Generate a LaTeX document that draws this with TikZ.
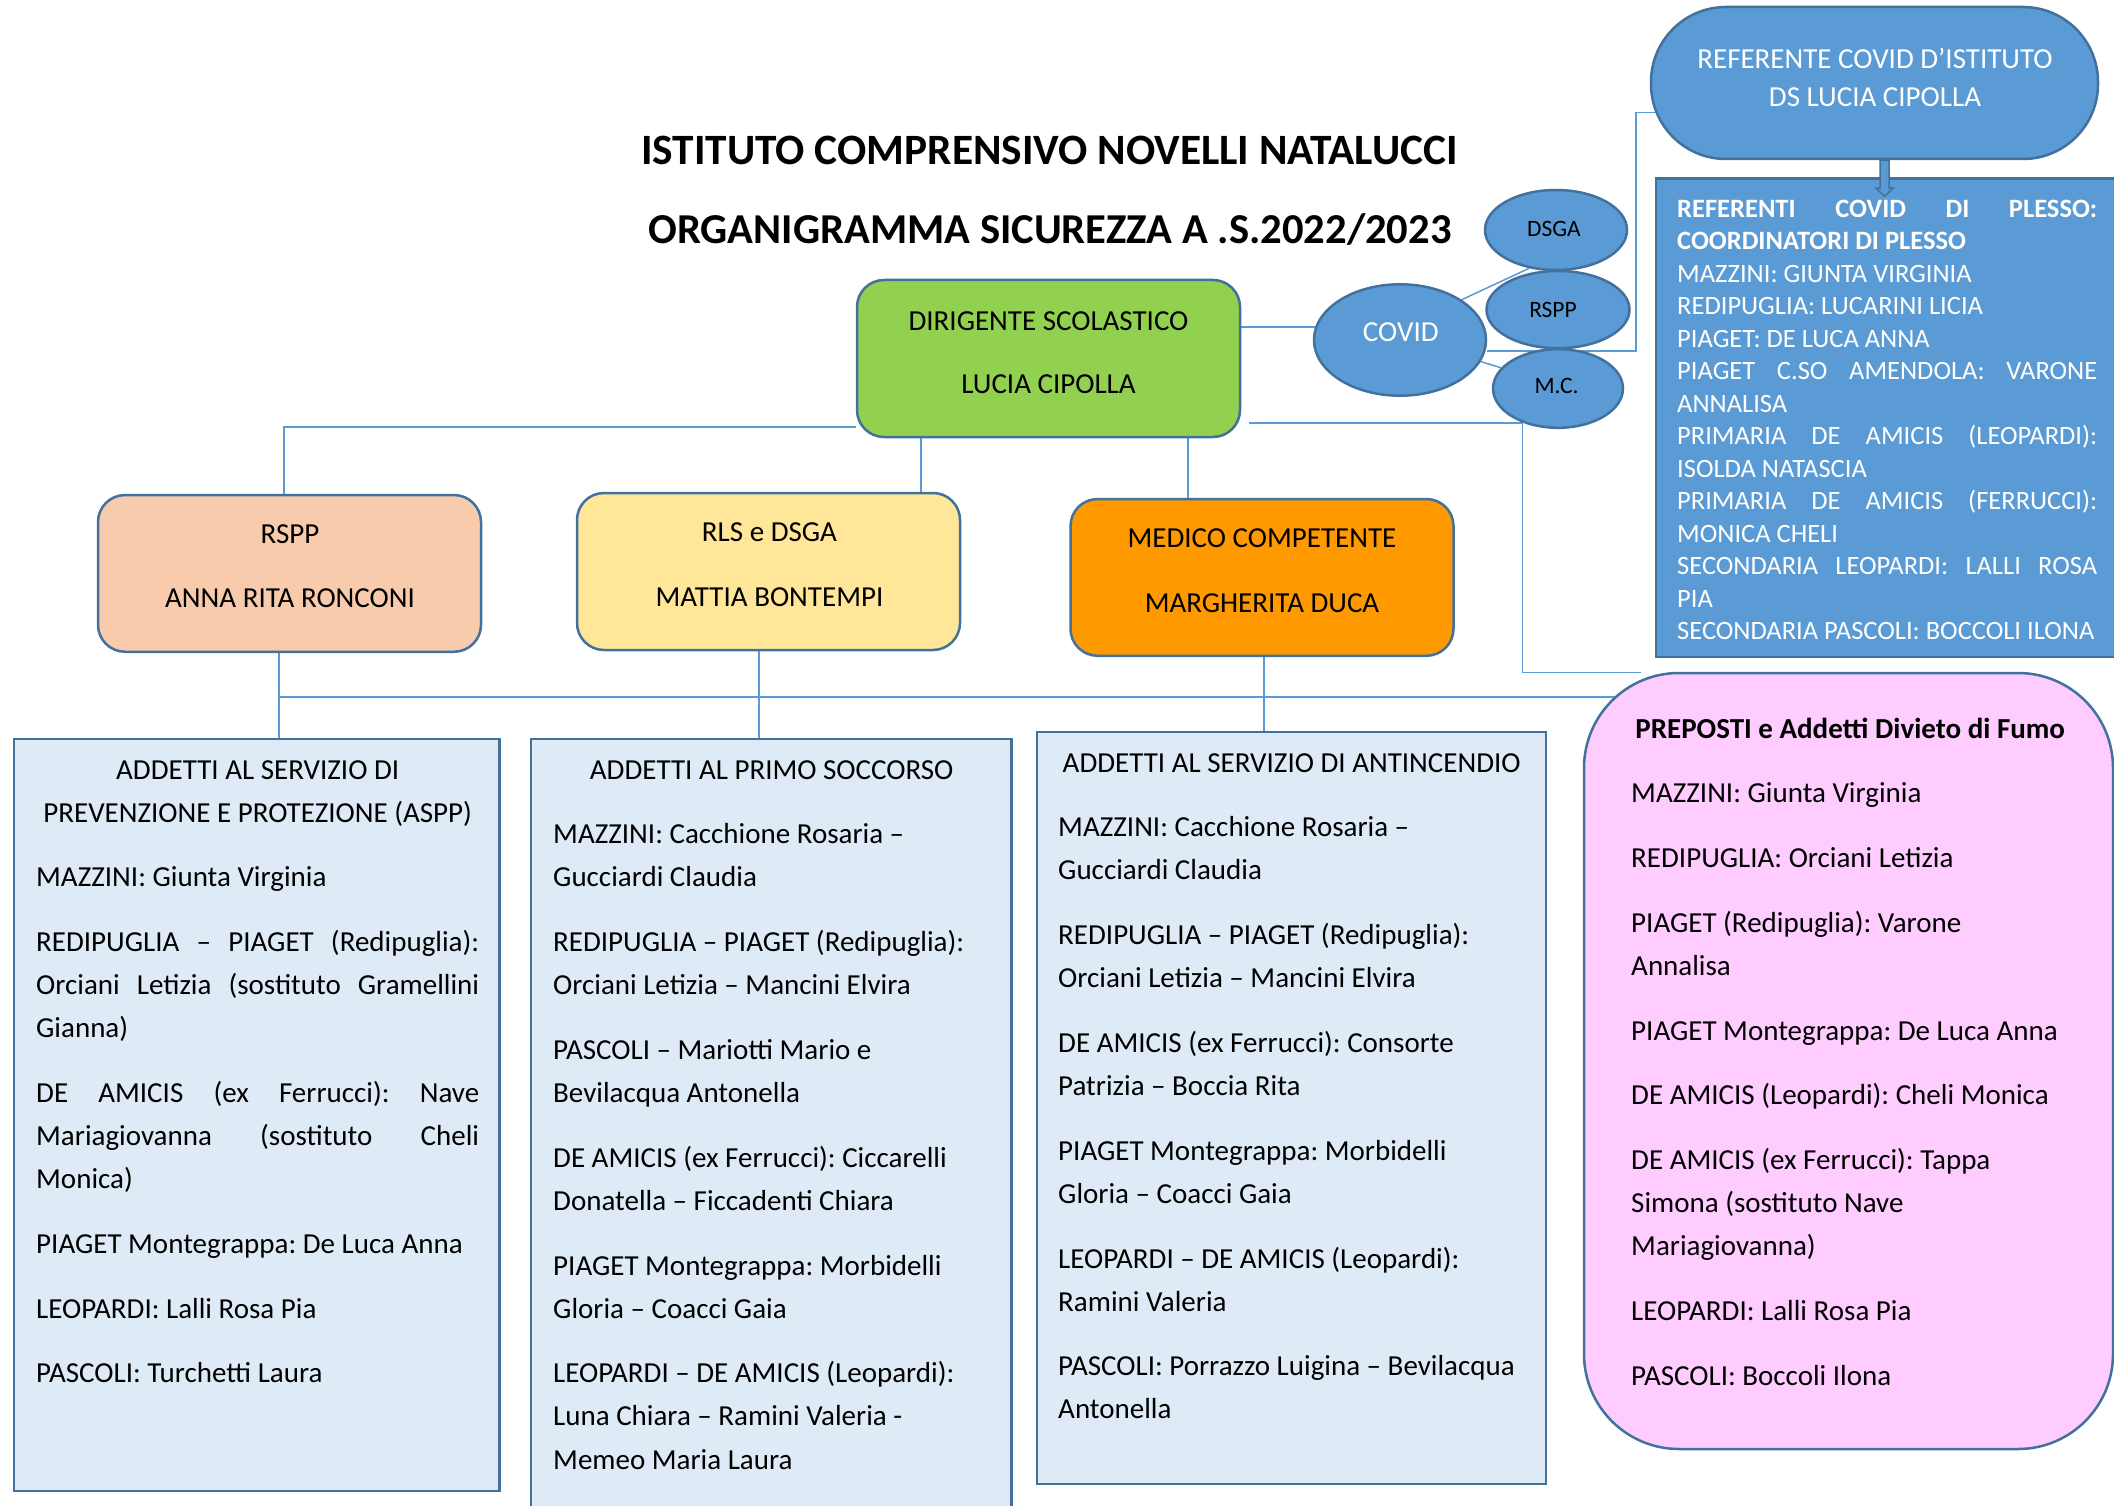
\documentclass[tikz,border=0pt]{standalone}
\usepackage{fontspec}
\setmainfont{Carlito}
\usetikzlibrary{shapes.geometric,arrows.meta,backgrounds}
\definecolor{cgreen}{HTML}{92D050}
\definecolor{cpeach}{HTML}{F8CBAD}
\definecolor{cyellow}{HTML}{FFE699}
\definecolor{corange}{HTML}{FF9900}
\definecolor{clight}{HTML}{DEEBF7}
\definecolor{cpink}{HTML}{FFCCFF}
\definecolor{cblue}{HTML}{5B9BD5}
\definecolor{cedge}{HTML}{41719C}
\newcommand{\orgbody}{\fontsize{29pt}{43.1pt}\selectfont}
\newcommand{\orgsmall}{\fontsize{26.5pt}{32.5pt}\selectfont}
\newcommand{\orgoval}{\fontsize{23.5pt}{26pt}\selectfont}
\newcommand{\orgtitle}{\fontsize{43.3pt}{50pt}\selectfont\bfseries}
\newcommand{\orgtitleb}{\fontsize{42.6pt}{50pt}\selectfont\bfseries}
\newcommand{\orgreset}{\spaceskip=0pt\xspaceskip=0pt\frenchspacing\hyphenpenalty=10000\exhyphenpenalty=10000\rightskip=0pt plus 1fil\relax}
\frenchspacing
\begin{document}
\begin{tikzpicture}[x=1pt,y=-1pt,
  box/.style={draw=cedge, line width=2.5pt, rounded corners=27pt, inner sep=0pt, minimum width=383pt, minimum height=157pt},
  plainbox/.style={draw=cedge, line width=2.5pt, inner sep=0pt, fill=clight},
  oval/.style={ellipse, draw=cedge, line width=2.5pt, fill=cblue, inner sep=0pt},
  conn/.style={draw=cblue, line width=1.5pt},
  txt/.style={inner sep=0pt, anchor=base, font=\orgbody},
  ovaltxt/.style={inner sep=0pt, anchor=base, font=\orgoval},
  col/.style={inner sep=0pt, anchor=north west, align=flush left, font=\orgbody},
]
\useasboundingbox (0,0) rectangle (2114,1506);

% title
\node[anchor=base, inner sep=0pt, font=\orgtitle] (title1) at (1049.5,165) {ISTITUTO COMPRENSIVO NOVELLI NATALUCCI};
\node[anchor=base, inner sep=0pt, font=\orgtitleb] (title2) at (1050,243.5) {ORGANIGRAMMA SICUREZZA A .S.2022/2023};

% upper boxes
\node[box, fill=cgreen] (dir) at (1048.5,358.5) {};
\node[box, fill=cpeach, minimum height=156.7pt] (rspp) at (289.5,573.4) {};
\node[box, fill=cyellow] (rls) at (768.5,571.5) {};
\node[box, fill=corange, minimum height=156.7pt] (med) at (1262,577.4) {};

\node[txt] (tdir1) at (1048.5,330) {DIRIGENTE SCOLASTICO};
\node[txt] (tdir2) at (1048.5,393) {LUCIA CIPOLLA};
\node[txt] (trspp1) at (290,543) {RSPP};
\node[txt] (trspp2) at (290,607) {ANNA RITA RONCONI};
\node[txt] (trls1) at (769.5,541) {RLS e DSGA};
\node[txt] (trls2) at (769.5,606) {MATTIA BONTEMPI};
\node[txt] (tmed1) at (1262,547) {MEDICO COMPETENTE};
\node[txt] (tmed2) at (1262,612.5) {MARGHERITA DUCA};

% covid ellipses
\node[oval, minimum width=172pt, minimum height=111.4pt] (covid) at (1400,340) {};
\node[oval, minimum width=142pt, minimum height=80pt] (dsga) at (1556,230) {};
\node[oval, minimum width=143pt, minimum height=77.2pt] (rsppe) at (1558,309.6) {};
\node[oval, minimum width=130pt, minimum height=78.6pt] (mc) at (1558,388.5) {};
\node[txt, text=white] (tcovid) at (1400.8,341) {COVID};
\node[ovaltxt] (tdsga) at (1554,236.6) {DSGA};
\node[ovaltxt] (trsppe) at (1553,317) {RSPP};
\node[ovaltxt] (tmc) at (1556.6,393.5) {M.C.};

% referente covid
\node[draw=cedge, line width=2.5pt, fill=cblue, rounded corners=75pt, inner sep=0pt, minimum width=447pt, minimum height=152pt] (ref) at (1874.5,83) {};
\node[txt, text=white] (tref1) at (1875,69) {REFERENTE COVID D’ISTITUTO};
\node[txt, text=white] (tref2) at (1875,107) {DS LUCIA CIPOLLA};

\node[draw=cedge, line width=2.5pt, fill=cblue, inner sep=0pt, minimum width=479pt, minimum height=478.4pt] (refs) at (1895.5,417.8) {};
\node[col, font=\orgsmall, text=white, text width=420pt] (trefs) at (1677,194.25) {\orgreset
\strut\makebox[420pt][s]{\bfseries REFERENTI COVID DI PLESSO:}\\
\textbf{COORDINATORI DI PLESSO}\\
MAZZINI: GIUNTA VIRGINIA\\
REDIPUGLIA: LUCARINI LICIA\\
PIAGET: DE LUCA ANNA\\
\makebox[420pt][s]{PIAGET C.SO AMENDOLA: VARONE}\\
ANNALISA\\
\makebox[420pt][s]{PRIMARIA DE AMICIS (LEOPARDI):}\\
ISOLDA NATASCIA\\
\makebox[420pt][s]{PRIMARIA DE AMICIS (FERRUCCI):}\\
MONICA CHELI\\
\makebox[420pt][s]{SECONDARIA LEOPARDI: LALLI ROSA}\\
PIA\\
\makebox[420pt][l]{SECONDARIA PASCOLI: BOCCOLI ILONA}};

% block arrow referente -> referenti
\draw[fill=cblue, draw=cedge, line width=1.5pt, line join=miter] ([xshift=14.5pt]ref.south) -- ++(0,28) -- ++(4,0) -- ++(-8.5,8) -- ++(-8.5,-8) -- ++(4,0) -- ++(0,-28) -- cycle;

% lower boxes
\node[plainbox, minimum width=485.5pt, minimum height=752pt] (aspp) at (256.75,1115) {};
\node[plainbox, minimum width=480.5pt, minimum height=786pt] (primo) at (771.25,1132) {};
\node[plainbox, minimum width=509pt, minimum height=752pt] (anti) at (1291.5,1108) {};
\node[draw=cedge, line width=2.5pt, fill=cpink, rounded corners=95pt, inner sep=0pt, minimum width=529pt, minimum height=776pt] (pink) at (1848.5,1061) {};

\node[col, text width=443pt] (taspp) at (36,748.8) {\orgreset
\strut\makebox[443pt]{ADDETTI AL SERVIZIO DI}\\
\makebox[443pt]{PREVENZIONE E PROTEZIONE (ASPP)}\\[21.6pt]
MAZZINI: Giunta Virginia\\[21.6pt]
\makebox[443pt][s]{REDIPUGLIA – PIAGET (Redipuglia):}\\
\makebox[443pt][s]{Orciani Letizia (sostituto Gramellini}\\
Gianna)\\[21.6pt]
\makebox[443pt][s]{DE AMICIS (ex Ferrucci): Nave}\\
\makebox[443pt][s]{Mariagiovanna (sostituto Cheli}\\
Monica)\\[21.6pt]
PIAGET Montegrappa: De Luca Anna\\[21.6pt]
LEOPARDI: Lalli Rosa Pia\\[21.6pt]
PASCOLI: Turchetti Laura};

\node[col, text width=437pt] (tprimo) at (553,748.8) {\orgreset
\strut\makebox[437pt]{ADDETTI AL PRIMO SOCCORSO}\\[21.6pt]
MAZZINI: Cacchione Rosaria –\\
Gucciardi Claudia\\[21.6pt]
REDIPUGLIA – PIAGET (Redipuglia):\\
Orciani Letizia – Mancini Elvira\\[21.6pt]
PASCOLI – Mariotti Mario e\\
Bevilacqua Antonella\\[21.6pt]
DE AMICIS (ex Ferrucci): Ciccarelli\\
Donatella – Ficcadenti Chiara\\[21.6pt]
PIAGET Montegrappa: Morbidelli\\
Gloria – Coacci Gaia\\[21.6pt]
LEOPARDI – DE AMICIS (Leopardi):\\
Luna Chiara – Ramini Valeria -\\
Memeo Maria Laura};

\node[col, text width=467pt] (tanti) at (1058,741.8) {\orgreset
\strut\makebox[467pt]{ADDETTI AL SERVIZIO DI ANTINCENDIO}\\[21.6pt]
MAZZINI: Cacchione Rosaria –\\
Gucciardi Claudia\\[21.6pt]
REDIPUGLIA – PIAGET (Redipuglia):\\
Orciani Letizia – Mancini Elvira\\[21.6pt]
DE AMICIS (ex Ferrucci): Consorte\\
Patrizia – Boccia Rita\\[21.6pt]
PIAGET Montegrappa: Morbidelli\\
Gloria – Coacci Gaia\\[21.6pt]
LEOPARDI – DE AMICIS (Leopardi):\\
Ramini Valeria\\[21.6pt]
\makebox[467pt][l]{PASCOLI: Porrazzo Luigina – Bevilacqua}\\
Antonella};

\node[col, text width=438pt] (tpink) at (1631,707.8) {\orgreset
\strut\makebox[438pt]{\bfseries PREPOSTI e Addetti Divieto di Fumo}\\[21.6pt]
MAZZINI: Giunta Virginia\\[21.6pt]
REDIPUGLIA: Orciani Letizia\\[21.6pt]
PIAGET (Redipuglia): Varone\\
Annalisa\\[21.6pt]
PIAGET Montegrappa: De Luca Anna\\[21.6pt]
DE AMICIS (Leopardi): Cheli Monica\\[21.6pt]
DE AMICIS (ex Ferrucci): Tappa\\
Simona (sostituto Nave\\
Mariagiovanna)\\[21.6pt]
LEOPARDI: Lalli Rosa Pia\\[21.6pt]
PASCOLI: Boccoli Ilona};

% connectors
\begin{pgfonlayer}{background}
\fill[white] (0,0) rectangle (2114,1506);
\coordinate (k1) at (1636,112.5);
\coordinate (k4) at (1641,672.7);
\coordinate (busL) at (279,697);
\draw[conn] ([yshift=31.5pt]dir.east) -- ([yshift=31.5pt]dir.east -| covid.center);
\draw[conn] ([yshift=-11pt]covid.east) -| (k1) -- (k1 -| ref.center);
\draw[conn] (covid.north east) -- (dsga.235);
\draw[conn] (covid.-15) -- (mc.160);
\draw[conn] ([xshift=8pt]dir.east |- mc.224) -- (mc.224) -- (mc.224 |- k4) -- (k4);
\draw[conn] ([yshift=-68.5pt]dir.west) -| ([xshift=-5.5pt]rspp.north);
\draw[conn] ([xshift=152.5pt]rls.north) -- ([xshift=152.5pt]rls.north |- dir.south);
\draw[conn] ([xshift=-74pt]med.north) -- ([xshift=-74pt]med.north |- dir.south);
\draw[conn] (busL) -- (busL -| pink.center);
\draw[conn] ([xshift=-10.5pt]rspp.south) -- ([xshift=-10.5pt]rspp.south |- aspp.north);
\draw[conn] ([xshift=-9.5pt]rls.south) -- ([xshift=-9.5pt]rls.south |- primo.north);
\draw[conn] ([xshift=2pt]med.south) -- ([xshift=2pt]med.south |- anti.north);
\end{pgfonlayer}
\end{tikzpicture}
\end{document}
